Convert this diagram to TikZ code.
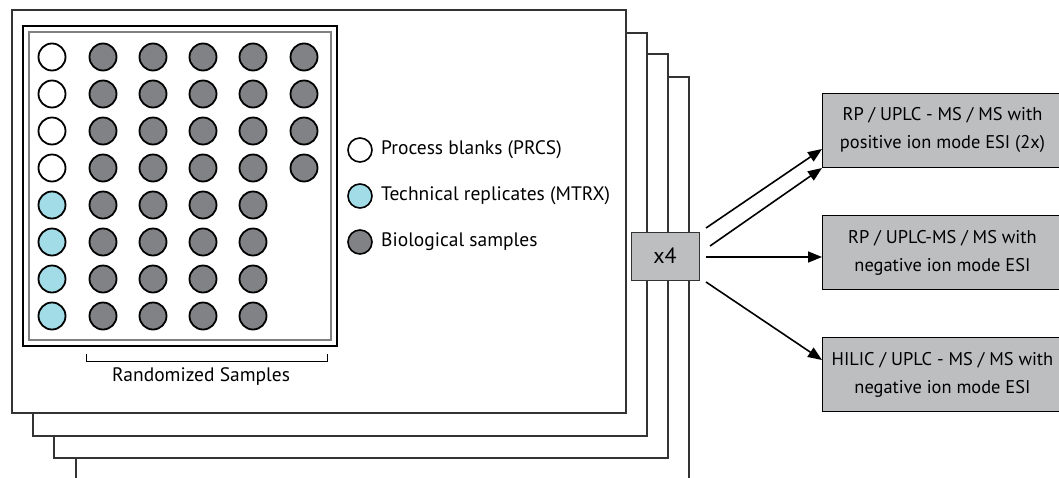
\documentclass[tikz,border=0pt]{standalone}
\usepackage{fontspec}
\setmainfont{PT Sans}
\usetikzlibrary{arrows.meta}
\definecolor{wellgray}{HTML}{808285}
\definecolor{wellblue}{HTML}{A1DCE7}
\definecolor{boxgray}{HTML}{BCBEC0}
\definecolor{sheetline}{HTML}{333333}
\tikzset{
  sheet/.style={draw=sheetline, line width=1.2pt, fill=white},
  well/.style={circle, draw=black, line width=1.8pt, minimum size=27pt, inner sep=0pt},
  keywell/.style={circle, draw=black, line width=1.6pt, minimum size=24pt, inner sep=0pt},
  keytext/.style={anchor=west, font=\fontsize{19.5}{22}\selectfont, inner sep=0pt},
  method/.style={draw=black, line width=0.9pt, fill=boxgray, minimum width=240pt, minimum height=74pt,
    align=center, anchor=north west, font=\fontsize{18.4}{28}\selectfont, inner sep=0pt},
  flow/.style={-{Triangle[length=14pt,width=11pt]}, line width=1.6pt, black},
}
\begin{document}
\begin{tikzpicture}[x=1pt,y=-1pt]
\useasboundingbox (0,0) rectangle (1059,477);
% stacked plates, back to front
\draw[sheet] (76,77) rectangle (689,500);
\draw[sheet] (54,54) rectangle (668,458);
\draw[sheet] (33,33) rectangle (647,436);
\draw[sheet] (12,10) rectangle (626,413);
% plate frame
\draw[black, line width=1.2pt] (23,26) rectangle (337,346);
\draw[gray, line width=1.8pt] (29,32) rectangle (331,340);
% wells
\foreach \r in {0,...,3} {
  \node[well, fill=white] (w1\r) at (52,57+37*\r) {};
  \node[well, fill=wellgray] (w6\r) at (304,57+37*\r) {};
}
\foreach \r in {4,...,7}
  \node[well, fill=wellblue] (w1\r) at (52,57+37*\r) {};
\foreach \c/\x in {2/103,3/153,4/203,5/253}
  \foreach \r in {0,...,7}
    \node[well, fill=wellgray] (w\c\r) at (\x,57+37*\r) {};
% randomized samples bracket
\coordinate (bl) at (86,354);
\coordinate (br) at (327,354);
\draw[black, line width=1pt] (bl) -- ++(0,7) -| (br);
\node[font=\fontsize{19.5}{22}\selectfont] (rs) at (201,376) {Randomized Samples};
% key
\node[keywell, fill=white] (k1) at (360,150) {};
\node[keywell, fill=wellblue] (k2) at (360,196) {};
\node[keywell, fill=wellgray] (k3) at (360,242) {};
\node[keytext] (t1) at (381,150) {Process blanks (PRCS)};
\node[keytext] (t2) at (381,196) {Technical replicates (MTRX)};
\node[keytext] (t3) at (381,242) {Biological samples};
% replicate count
\node[draw=sheetline, line width=1pt, fill=boxgray, minimum width=68pt, minimum height=48pt,
  inner sep=0pt, font=\fontsize{22}{24}\selectfont] (x4) at (665,256) {x4};
% analytical methods
\node[method] (m1) at (822,93) {RP / UPLC - MS / MS with\\positive ion mode ESI (2x)};
\node[method] (m2) at (822,215) {RP / UPLC-MS / MS with\\negative ion mode ESI};
\node[method] (m3) at (822,337) {HILIC / UPLC - MS / MS with\\negative ion mode ESI};
% connectors
\coordinate (a1) at (706,228);
\coordinate (a2) at (710,246);
\coordinate (a3) at (706,257);
\coordinate (a4) at (706,282);
\draw[flow] (a1) -- (m1.west |- 0,149);
\draw[flow] (a2) -- (m1.west |- 0,168);
\draw[flow] (a3) -- (m2.west |- a3);
\draw[flow] (a4) -- (m3.west |- 0,360);
\end{tikzpicture}
\end{document}
